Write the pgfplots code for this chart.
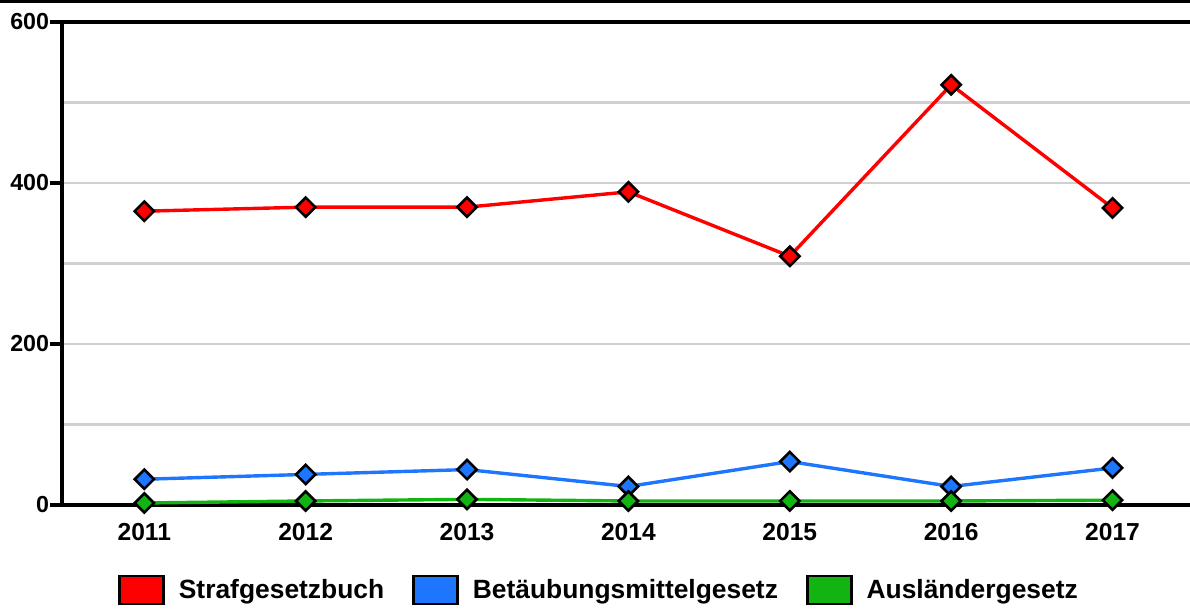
\documentclass[border=0pt]{standalone}
\usepackage{fontspec}
\setmainfont{Liberation Sans}
\usepackage{pgfplots}
\pgfplotsset{compat=1.18}
\definecolor{cred}{RGB}{255,0,0}
\definecolor{cblue}{RGB}{30,118,255}
\definecolor{cgreen}{RGB}{17,180,17}
\definecolor{cgrid}{RGB}{208,208,208}
\begin{document}
\begin{tikzpicture}
\begin{axis}[
  scale only axis,
  width=564pt, height=241.5pt,
  xmin=2010.49, xmax=2017.48,
  ymin=0, ymax=600,
  clip=false,
  axis x line*=bottom, axis y line*=left,
  axis line style={-, line width=1.8pt, black},
  xtick={2011,2012,2013,2014,2015,2016,2017},
  ytick={0,200,400,600},
  minor ytick={100,300,500},
  ymajorgrids, yminorgrids,
  major grid style={cgrid, line width=1.2pt},
  minor grid style={cgrid, line width=1.2pt},
  minor tick length=0pt,
  tick align=outside,
  x tick style={draw=none},
  y tick style={black, line width=1.8pt},
  major tick length=6pt,
  /pgf/number format/1000 sep={},
  /pgf/number format/assume math mode=true,
  xticklabel style={font=\bfseries\fontsize{12.3}{14}\selectfont, yshift=0.5pt},
  yticklabel style={font=\bfseries\fontsize{11.6}{14}\selectfont, xshift=3pt},
  legend columns=3,
  legend style={at={(0.477,-0.176)}, anchor=center, draw=none, fill=none,
    font=\bfseries\fontsize{13.2}{15}\selectfont,
    /tikz/every odd column/.append style={column sep=5pt},
    /tikz/every even column/.append style={column sep=12pt},
    inner sep=0pt},
  legend cell align=left,
]
\draw[line width=1.8pt, black] (rel axis cs:0,1) -- (rel axis cs:1,1);
\addplot[cred, line width=1.7pt, mark=square*, mark size=3.4pt,
  mark options={rotate=45, fill=cred, draw=black, line width=1.3pt},
  legend image code/.code={\draw[draw=black, line width=1.3pt, fill=cred] (0pt,-7pt) rectangle (22pt,7pt);}]
  coordinates {(2011,365) (2012,370) (2013,370) (2014,389) (2015,309) (2016,522) (2017,369)};
\addlegendentry{Strafgesetzbuch}
\addplot[cblue, line width=1.7pt, mark=square*, mark size=3.4pt,
  mark options={rotate=45, fill=cblue, draw=black, line width=1.3pt},
  legend image code/.code={\draw[draw=black, line width=1.3pt, fill=cblue] (0pt,-7pt) rectangle (22pt,7pt);}]
  coordinates {(2011,32) (2012,38) (2013,44) (2014,23) (2015,54) (2016,23) (2017,46)};
\addlegendentry{Betäubungsmittelgesetz}
\addplot[cgreen, line width=1.7pt, mark=square*, mark size=3.4pt,
  mark options={rotate=45, fill=cgreen, draw=black, line width=1.3pt},
  legend image code/.code={\draw[draw=black, line width=1.3pt, fill=cgreen] (0pt,-7pt) rectangle (22pt,7pt);}]
  coordinates {(2011,2.5) (2012,5) (2013,7) (2014,5) (2015,5) (2016,5) (2017,6)};
\addlegendentry{Ausländergesetz}
\end{axis}
\draw[line width=1.5pt, black] (-31pt,251.7pt) -- (564pt,251.7pt);
\pgfresetboundingbox
\path (-31pt,-52.5pt) rectangle (564pt,252.5pt);
\end{tikzpicture}
\end{document}
